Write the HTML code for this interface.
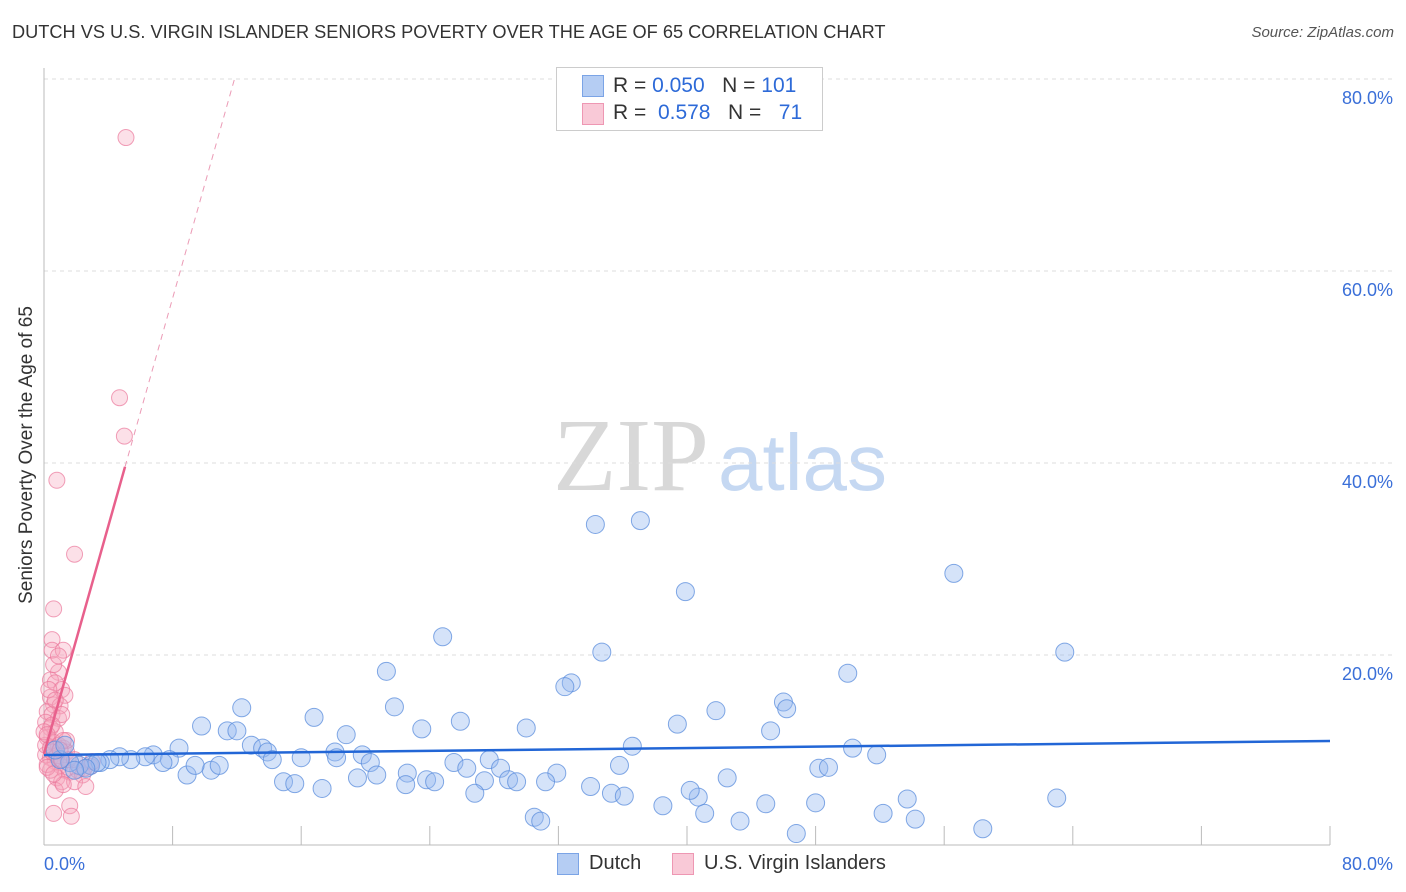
<!DOCTYPE html>
<html><head><meta charset="utf-8"><style>
body{margin:0;background:#fff;font-family:"Liberation Sans",sans-serif;}
#wrap{position:relative;width:1406px;height:892px;overflow:hidden}
.t{position:absolute;white-space:nowrap}
</style></head><body>
<div id="wrap">
<div class="t" style="left:12px;top:22px;font-size:18.2px;color:#333">DUTCH VS U.S. VIRGIN ISLANDER SENIORS POVERTY OVER THE AGE OF 65 CORRELATION CHART</div>
<div class="t" style="right:12px;top:24px;font-size:15px;color:#555;font-style:italic">Source: ZipAtlas.com</div>
<div class="t" style="left:-128px;top:444px;width:310px;text-align:center;transform:rotate(-90deg);font-size:19px;color:#333">Seniors Poverty Over the Age of 65</div>
<svg id="svg" width="1406" height="892" style="position:absolute;left:0;top:0"></svg>
</div>
<script>
const xTickLabels=["0.0%","80.0%"];
const yTickVals=[20,40,60,80];
const blueX=[34.3,37.1,39.9,56.6,63.5,24.8,34.7,50.0,21.3,32.8,32.4,46.0,46.2,41.8,12.3,16.8,21.8,25.9,30.0,39.4,45.2,9.8,11.4,12.0,18.8,23.5,36.6,50.3,51.8,8.4,12.9,13.6,13.9,18.1,19.8,14.2,16.0,18.2,27.7,28.4,25.5,20.3,22.6,26.3,28.9,31.9,29.4,35.8,48.2,48.8,42.5,8.9,10.4,10.9,9.4,6.8,7.8,6.3,7.4,5.4,4.7,4.1,3.5,2.9,2.2,1.6,1.0,0.7,1.3,14.9,15.6,17.3,19.5,20.7,22.5,23.8,24.3,27.4,31.2,34.0,35.3,36.1,26.8,40.7,40.2,38.5,44.9,48.0,53.7,63.0,30.5,30.9,41.1,43.3,52.2,54.2,46.8,58.4,3.3,2.6,1.9];
const blueY=[33.6,34.0,26.6,28.5,20.3,21.9,20.3,18.1,18.3,17.1,16.7,15.1,14.4,14.2,14.5,13.5,14.6,13.1,12.4,12.8,12.1,12.6,12.1,12.1,11.7,12.3,10.5,10.3,9.6,10.3,10.6,10.3,9.9,9.9,9.6,9.1,9.3,9.3,9.1,8.2,8.8,8.8,7.7,8.2,7.0,7.7,6.8,8.5,8.2,8.3,7.2,7.5,8.0,8.5,8.5,9.6,9.1,9.4,8.8,9.1,9.4,9.1,8.8,8.5,8.5,8.8,9.1,10.1,10.6,6.8,6.6,6.1,7.2,7.5,6.5,7.0,6.8,6.9,6.8,6.3,5.6,5.3,5.6,5.2,5.9,4.3,4.5,4.6,5.0,5.1,3.1,2.7,3.5,2.7,3.5,2.9,1.4,1.9,8.8,8.2,8.0];
const pinkX=[5.1,4.7,5.0,0.8,1.9,0.6,0.5,0.5,1.2,0.9,0.4,0.7,1.1,1.3,0.4,0.6,1.0,0.2,0.5,0.9,1.1,0.1,0.4,0.7,0.2,0.6,0.9,1.2,1.4,0.1,0.4,0.7,1.0,1.3,1.6,2.1,2.4,2.9,0.8,1.1,1.9,2.6,0.7,1.2,0.4,0.2,0.5,0.8,1.1,1.5,1.6,1.7,0.6,1.1,0.5,0.3,0.7,0.1,0.4,1.4,0.0,0.2,0.6,0.9,1.2,1.9,2.5,3.0,0.2,0.6,1.0];
const pinkY=[73.9,46.8,42.8,38.2,30.5,24.8,21.6,20.5,20.5,18.2,17.4,17.1,16.4,15.8,15.6,14.8,14.7,14.1,13.8,13.4,13.8,13.0,12.4,12.0,11.4,10.9,10.6,10.3,9.9,9.6,9.3,8.9,8.5,8.0,7.8,8.0,7.5,8.4,7.2,6.8,6.8,6.3,5.9,6.5,8.0,8.6,9.9,9.5,9.1,9.1,4.3,3.2,3.5,9.1,12.7,16.4,15.3,10.6,10.3,11.1,12.0,11.7,19.0,19.9,11.1,9.1,8.2,8.9,8.3,7.6,10.1];
const blueTrend=[9.58,11.04];
const pinkTrend=[9.7,39.6];
const NS="http://www.w3.org/2000/svg";
const svg=document.getElementById('svg');
const X0=44,X1=1330,Y0=847,PY=9.6;
const xs=v=>X0+(X1-X0)*v/80;
const ys=v=>Y0-v*PY;
function mk(tag,attrs){const e=document.createElementNS(NS,tag);for(const k in attrs)e.setAttribute(k,attrs[k]);svg.appendChild(e);return e;}
let w=mk('text',{x:553,y:490,'font-family':'Liberation Serif, serif','font-size':104,fill:'#d8d8d8'});w.textContent='ZIP';


let w2=mk('text',{x:718,y:490,'font-family':'Liberation Sans, sans-serif','font-size':80,fill:'#c5d8f2'});w2.textContent='atlas';


yTickVals.forEach(v=>{
 const g=mk('line',{x1:X0,x2:1393,y1:ys(v),y2:ys(v),stroke:'#ddd','stroke-dasharray':'4,4'});
 
 
 const t=mk('text',{x:1393,y:ys(v)+25,'text-anchor':'end','font-size':18,fill:'#3a6fd8','font-family':'Liberation Sans, sans-serif'});
 t.textContent=v.toFixed(1)+'%';
 
 
});
let ax=mk('line',{x1:X0,x2:X0,y1:68,y2:845,stroke:'#bbb'});


let bx=mk('line',{x1:X0,x2:X1,y1:845,y2:845,stroke:'#bbb'});


for(let i=1;i<=10;i++){const tk=mk('line',{x1:xs(i*8),x2:xs(i*8),y1:826,y2:845,stroke:'#bbb'});
 
 }
[[0,'start',44],[80,'end',1393]].forEach((a,i)=>{const t=mk('text',{x:a[2],y:870,'text-anchor':a[1],'font-size':18,fill:'#3a6fd8','font-family':'Liberation Sans, sans-serif'});t.textContent=xTickLabels[i];
 
 });
pinkX.forEach((v,i)=>{const c=mk('circle',{cx:xs(v),cy:ys(pinkY[i]),r:8,fill:'rgba(245,165,190,0.35)',stroke:'rgba(235,120,155,0.7)','stroke-width':1});
 
 });
blueX.forEach((v,i)=>{const c=mk('circle',{cx:xs(v),cy:ys(blueY[i]),r:9,fill:'rgba(150,185,240,0.4)',stroke:'rgba(90,140,220,0.75)','stroke-width':1});
 
 });
let bt=mk('line',{x1:xs(0),y1:ys(blueTrend[0]),x2:xs(80),y2:ys(blueTrend[1]),stroke:'#2266d6','stroke-width':2.5});


const ps=(pinkTrend[1]-pinkTrend[0])/5.04;
let pt=mk('line',{x1:xs(0),y1:ys(pinkTrend[0]),x2:xs(5.04),y2:ys(pinkTrend[1]),stroke:'#e8608c','stroke-width':2.5});


const xe=(80-pinkTrend[0])/ps;
let pd=mk('line',{x1:xs(5.04),y1:ys(pinkTrend[1]),x2:xs(xe),y2:ys(80),stroke:'#eb9ab5','stroke-width':1,'stroke-dasharray':'6,5'});


</script>
<div class="t" style="left:556px;top:67px;width:265px;height:62px;border:1px solid #ccc;background:#fff">
 <div class="t" style="left:25px;top:7px;width:20px;height:20px;background:#b5cdf3;border:1px solid #7ba4e6"></div>
 <div class="t" style="left:56px;top:6px;font-size:21px;color:#333">R = <span style="color:#2d6ad8">0.050</span>&nbsp;&nbsp;&nbsp;N = <span style="color:#2d6ad8">101</span></div>
 <div class="t" style="left:25px;top:35px;width:20px;height:20px;background:#f9c9d7;border:1px solid #ee97b3"></div>
 <div class="t" style="left:56px;top:33px;font-size:21px;color:#333">R = &nbsp;<span style="color:#2d6ad8">0.578</span>&nbsp;&nbsp;&nbsp;N = &nbsp;&nbsp;<span style="color:#2d6ad8">71</span></div>
</div>
<div class="t" style="left:557px;top:853px;width:20px;height:20px;background:#b5cdf3;border:1px solid #7ba4e6"></div>
<div class="t" style="left:589px;top:852px;font-size:20px;color:#333">Dutch</div>
<div class="t" style="left:672px;top:853px;width:20px;height:20px;background:#f9c9d7;border:1px solid #ee97b3"></div>
<div class="t" style="left:704px;top:852px;font-size:20px;color:#333">U.S. Virgin Islanders</div>
</body></html>
